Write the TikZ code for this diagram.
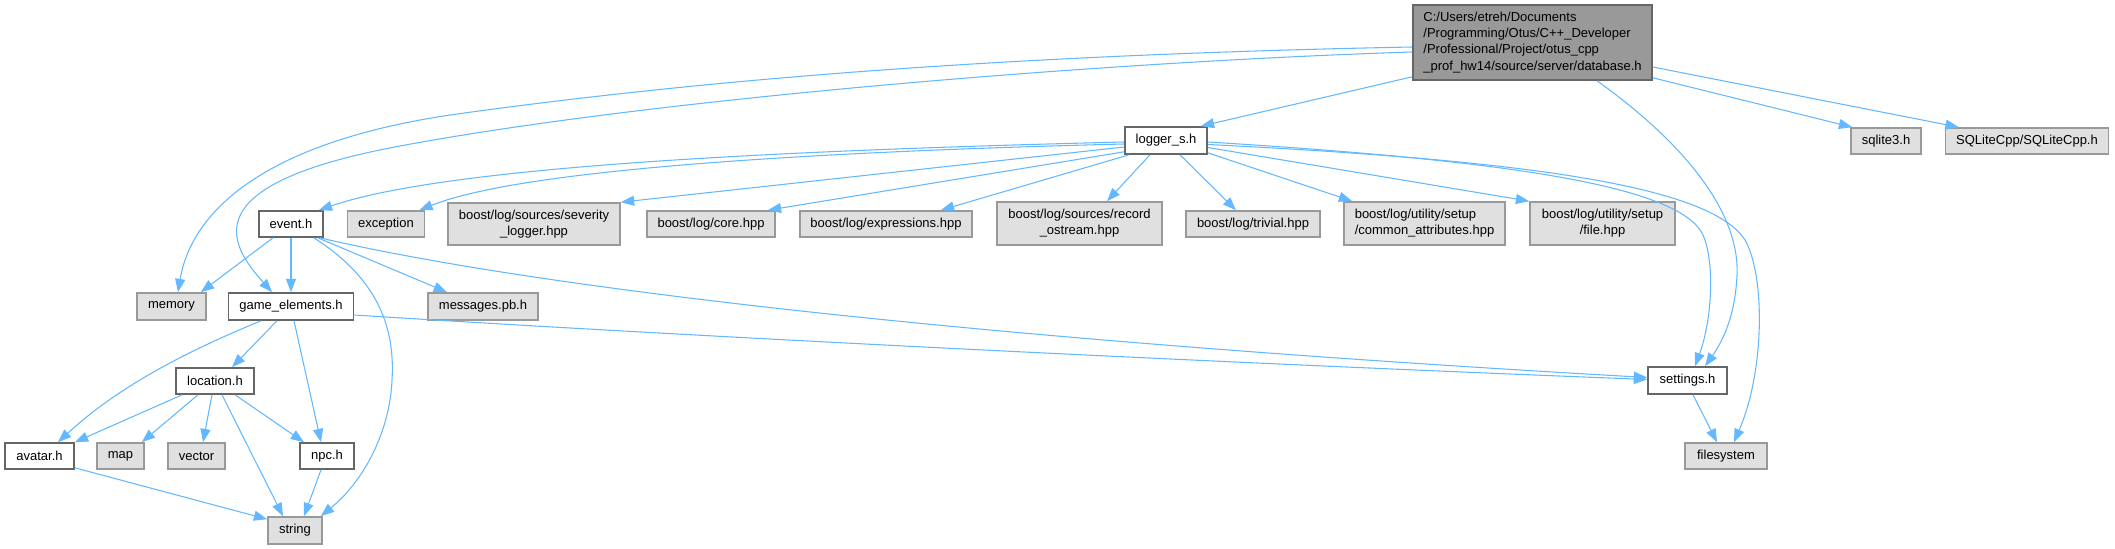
\documentclass[tikz,border=0pt]{standalone}
\usepackage{fontspec}
\setmainfont{Liberation Sans}
\usetikzlibrary{arrows.meta,calc}
\definecolor{edgec}{HTML}{63B8FF}
\definecolor{dbfill}{HTML}{999999}
\definecolor{dbborder}{HTML}{666666}
\definecolor{wborder}{HTML}{666666}
\definecolor{gfill}{HTML}{E0E0E0}
\definecolor{gborder}{HTML}{999999}
\begin{document}
\begin{tikzpicture}[x=0.75pt,y=-0.75pt,
  base/.style={rectangle, inner sep=0pt, line width=1.2pt, font=\fontsize{9.75}{12.2}\selectfont},
  dbnode/.style={base, fill=dbfill, draw=dbborder, align=left},
  wnode/.style={base, fill=white, draw=wborder, align=center},
  gnode/.style={base, fill=gfill, draw=gborder, align=center},
  dep/.style={draw=edgec, line width=0.8pt, -{Triangle[length=10pt,width=7.5pt]}}]
\useasboundingbox (0,0) rectangle (2115,549);
% nodes
\node[dbnode, minimum width=179.25pt, minimum height=56.25pt] (db) at (1532.5,42.5) {C:/Users/etreh/Documents\\/Programming/Otus/C++\_Developer\\/Professional/Project/otus\_cpp\\\_prof\_hw14/source/server/database.h};
\node[wnode, minimum width=61.5pt, minimum height=20.25pt] (logger) at (1166,140.5) {logger\_s.h};
\node[gnode, minimum width=52.5pt, minimum height=19.5pt] (sqlite) at (1886,141) {sqlite3.h};
\node[gnode, minimum width=122.25pt, minimum height=19.5pt] (sqlitecpp) at (2027,141) {SQLiteCpp/SQLiteCpp.h};
\node[wnode, minimum width=48pt, minimum height=19.5pt] (event) at (291,224) {event.h};
\node[gnode, minimum width=57.75pt, minimum height=19.5pt] (exception) at (386,224) {exception};
\node[gnode, minimum width=129pt, minimum height=31.5pt] (severity) at (534,224) {boost/log/sources/severity\\\_logger.hpp};
\node[gnode, minimum width=96pt, minimum height=19.5pt] (core) at (711,224) {boost/log/core.hpp};
\node[gnode, minimum width=129pt, minimum height=19.5pt] (expressions) at (886,224) {boost/log/expressions.hpp};
\node[gnode, minimum width=123.75pt, minimum height=32.25pt] (record) at (1079.5,223.5) {boost/log/sources/record\\\_ostream.hpp};
\node[gnode, minimum width=100.5pt, minimum height=19.5pt] (trivial) at (1253,224) {boost/log/trivial.hpp};
\node[gnode, minimum width=120.75pt, minimum height=32.25pt, align=left] (common) at (1424.5,223.5) {boost/log/utility/setup\\/common\_attributes.hpp};
\node[gnode, minimum width=108.75pt, minimum height=32.25pt] (file) at (1602.5,223.5) {boost/log/utility/setup\\/file.hpp};
\node[gnode, minimum width=51.75pt, minimum height=20.25pt] (memory) at (171.5,306.5) {memory};
\node[wnode, minimum width=93.75pt, minimum height=20.25pt] (game) at (291,306.5) {game\_elements.h};
\node[gnode, minimum width=82.5pt, minimum height=20.25pt] (messages) at (483,306.5) {messages.pb.h};
\node[wnode, minimum width=59.25pt, minimum height=20.25pt] (settings) at (1687.5,380.5) {settings.h};
\node[wnode, minimum width=58.5pt, minimum height=19.5pt] (location) at (215,381) {location.h};
\node[wnode, minimum width=51.75pt, minimum height=19.5pt] (avatar) at (39.5,456) {avatar.h};
\node[gnode, minimum width=35.25pt, minimum height=19.5pt] (map) at (120.5,456) {map};
\node[gnode, minimum width=42.75pt, minimum height=19.5pt] (vector) at (196.5,456) {vector};
\node[wnode, minimum width=40.5pt, minimum height=19.5pt] (npc) at (327,456) {npc.h};
\node[gnode, minimum width=61.5pt, minimum height=19.5pt] (filesystem) at (1726,456) {filesystem};
\node[gnode, minimum width=40.5pt, minimum height=20.25pt] (string) at (295,530.5) {string};
% edges from database
\draw[dep] ($(db.west)+(0,4.5)$) .. controls (1000,55) and (700,80) .. (450,115) .. controls (250,145) and (190,220) .. ($(memory.north)+(6.5,0)$);
\draw[dep] ($(db.west)+(0,9.5)$) .. controls (1100,62) and (652,99) .. (400,146) .. controls (190,185) and (230,245) .. ($(game.north)+(-19,0)$);
\draw[dep] ($(db.south west)+(0,-4)$) -- ($(logger.north east)+(-7,0)$);
\draw[dep] ($(db.south)+(64.5,0)$) .. controls (1680,140) and (1740,210) .. (1737,275) .. controls (1735,320) and (1720,345) .. ($(settings.north)+(17.5,0)$);
\draw[dep] ($(db.south east)+(0,-3)$) -- ($(sqlite.north west)+(2,0)$);
\draw[dep] ($(db.east)+(0,24.5)$) -- ($(sqlitecpp.north west)+(14,0)$);
% edges from logger
\draw[dep] ($(logger.west)+(0,1.5)$) .. controls (800,150) and (450,165) .. ($(event.north east)+(-5,0)$);
\draw[dep] ($(logger.west)+(0,3.5)$) .. controls (800,152) and (520,170) .. ($(exception.north east)+(-6,0)$);
\draw[dep] ($(logger.west)+(0,6.5)$) -- (severity.north east);
\draw[dep] ($(logger.south west)+(0,-3)$) -- ($(core.north east)+(-8,0)$);
\draw[dep] ($(logger.south west)+(5,0)$) -- ($(expressions.north east)+(-32,0)$);
\draw[dep] ($(logger.south)+(-16,0)$) -- ($(record.north)+(27.5,0)$);
\draw[dep] ($(logger.south)+(14,0)$) -- ($(trivial.north)+(-17,0)$);
\draw[dep] ($(logger.south east)+(0,-2)$) -- ($(common.north west)+(9,0)$);
\draw[dep] ($(logger.east)+(0,7)$) -- (file.north west);
\draw[dep] ($(logger.east)+(0,1.5)$) .. controls (1500,160) and (1680,185) .. (1703,235) .. controls (1715,262) and (1712,320) .. ($(settings.north)+(7.5,0)$);
\draw[dep] ($(logger.east)+(0,4)$) .. controls (1520,160) and (1710,185) .. (1745,240) .. controls (1765,275) and (1765,370) .. ($(filesystem.north)+(8,0)$);
% edges from event
\draw[dep] ($(event.south)+(-18,0)$) -- ($(memory.north east)+(-6,0)$);
\draw[dep] (event.south) -- (game.north);
\draw[dep] ($(event.south east)+(-10,0)$) .. controls (380,280) and (395,330) .. (392,380) .. controls (390,430) and (365,480) .. ($(string.north east)+(-2,0)$);
\draw[dep] ($(event.south east)+(-6,0)$) -- ($(messages.north)+(-36,0)$);
\draw[dep] ($(event.south east)+(-4,0)$) .. controls (500,280) and (900,335) .. ($(settings.west)+(0,-3)$);
% edges from game_elements
\draw[dep] ($(game.south)+(-30,0)$) .. controls (190,350) and (120,385) .. ($(avatar.north)+(18.5,0)$);
\draw[dep] ($(game.south)+(-14,0)$) -- ($(location.north)+(17,0)$);
\draw[dep] ($(game.south)+(3,0)$) -- ($(npc.north)+(-6,0)$);
\draw[dep] ($(game.east)+(0,8.5)$) .. controls (700,337) and (1200,362) .. ($(settings.west)+(0,-1)$);
% edges from location
\draw[dep] ($(location.south west)+(7,0)$) -- (avatar.north east);
\draw[dep] ($(location.south)+(-17,0)$) -- ($(map.north east)+(-3,0)$);
\draw[dep] ($(location.south)+(-3,0)$) -- ($(vector.north)+(6.5,0)$);
\draw[dep] ($(location.south)+(7,0)$) -- ($(string.north)+(-12,0)$);
\draw[dep] ($(location.south)+(20,0)$) -- ($(npc.north)+(-23,0)$);
% remaining
\draw[dep] ($(avatar.south east)+(0,-2)$) -- ($(string.north west)+(0,3)$);
\draw[dep] ($(npc.south)+(-6,0)$) -- ($(string.north)+(9,0)$);
\draw[dep] ($(settings.south)+(5.5,0)$) -- ($(filesystem.north)+(-9,0)$);
\end{tikzpicture}
\end{document}
